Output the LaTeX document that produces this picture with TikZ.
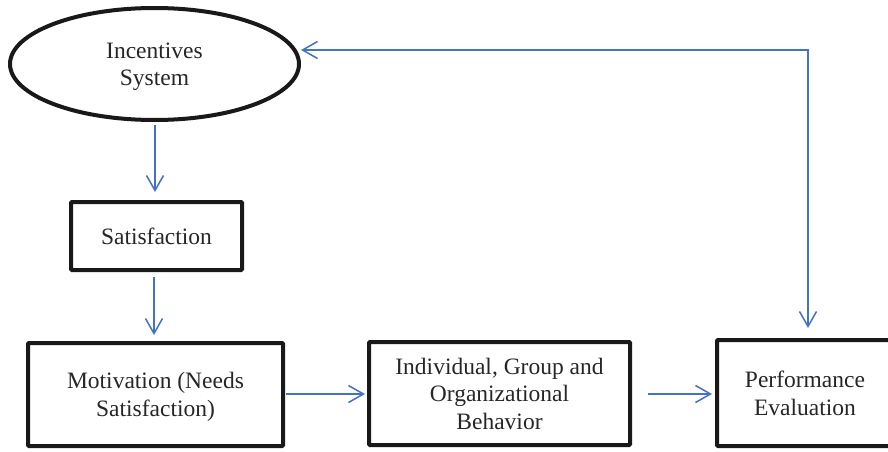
\documentclass[tikz,border=0pt]{standalone}
\usepackage{fontspec}
\setmainfont{Liberation Serif}
\usetikzlibrary{shapes.geometric,arrows.meta}
\definecolor{arrblue}{HTML}{4472C4}
\begin{document}
\begin{tikzpicture}[x=1pt,y=1pt,
  box/.style={draw=black!90, line width=4pt, rounded corners=1pt, inner sep=0pt, align=center,
    font=\fontsize{23.5}{27.5}\selectfont, text=black!85, text depth=0pt},
  oval/.style={draw=black!90, line width=4pt, ellipse, inner sep=0pt, align=center,
    font=\fontsize{23.5}{27.5}\selectfont, text=black!85, text depth=0pt},
  arr/.style={draw=arrblue, line width=1.5pt, -{Straight Barb[length=15pt,width=17pt]}},
  darr/.style={draw=arrblue, line width=1.5pt, {Straight Barb[length=15pt,width=17pt]}-{Straight Barb[length=15pt,width=17pt]}}]
\useasboundingbox (0,0) rectangle (888,451);
\node[oval, minimum width=289pt, minimum height=112pt] (inc) at (154.5,387) {Incentives\\System};
\node[box, minimum width=171pt, minimum height=68pt] (sat) at (156.5,215) {Satisfaction};
\node[box, minimum width=255pt, minimum height=103pt] (mot) at (155.5,56.5) {Motivation (Needs\\Satisfaction)};
\node[box, minimum width=261pt, minimum height=103pt] (ind) at (499.5,57.5) {Individual, Group and\\Organizational\\Behavior};
\node[box, minimum width=176pt, minimum height=106pt] (perf) at (805,58) {Performance\\Evaluation};
\coordinate (corner) at (808,401);
\coordinate (fbend) at (301,401);
\draw[arr, shorten <=3pt, shorten >=8pt] (inc.south -| 155,0) -- (sat.north -| 155,0);
\draw[arr, shorten <=5pt, shorten >=6pt] (sat.south -| 154,0) -- (mot.north -| 154,0);
\draw[arr, shorten <=1pt, shorten >=2pt] (mot.east |- 0,57) -- (ind.west |- 0,57);
\draw[arr, shorten <=16pt, shorten >=3pt] (ind.east |- 0,57) -- (perf.west |- 0,57);
\draw[darr, shorten >=10pt] (fbend) -- (corner) -- (perf.north -| corner);
\end{tikzpicture}
\end{document}
